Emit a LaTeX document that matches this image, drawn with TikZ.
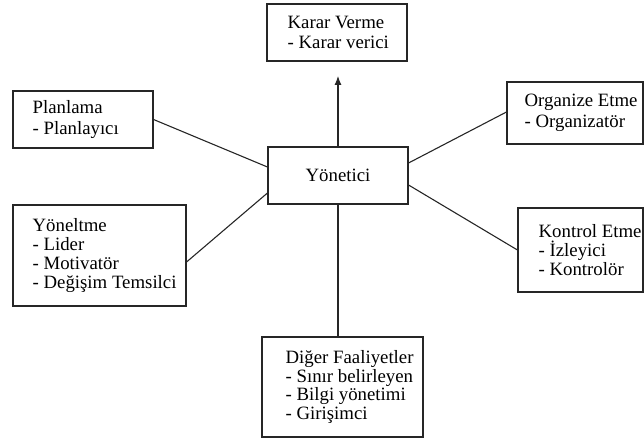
\documentclass[tikz,border=0pt]{standalone}
\usepackage{fontspec}
\newfontfamily\lserif{LiberationSerif}[Extension=.ttf, UprightFont=*-Regular]
\usetikzlibrary{arrows.meta}
\begin{document}
\begin{tikzpicture}[x=1pt,y=-1pt,
  box/.style={draw=black!85, line width=1.1pt, inner sep=0pt},
  txt/.style={anchor=west, inner sep=0pt, align=left, font=\lserif\fontsize{18.8}{20.5}\selectfont},
  txtb/.style={txt, font=\lserif\fontsize{18.8}{18.7}\selectfont},
  conn/.style={draw=black!85, line width=1.1pt}]
\useasboundingbox (0,0) rectangle (644,438);
% boxes
\node[box, minimum width=140pt, minimum height=57pt] (karar) at (337,32.5) {};
\node[box, minimum width=140pt, minimum height=57pt] (plan) at (83,119.5) {};
\node[box, minimum width=136pt, minimum height=62pt] (org) at (575,113) {};
\node[box, minimum width=140pt, minimum height=57pt] (yon) at (338,175.5) {};
\node[box, minimum width=173pt, minimum height=101pt] (yonelt) at (99.5,255.5) {};
\node[box, minimum width=125pt, minimum height=84pt] (kontrol) at (580.5,250) {};
\node[box, minimum width=161pt, minimum height=100pt] (diger) at (342.5,387) {};
% texts
\node[txt] (kararT) at ([xshift=21pt]karar.west) {Karar Verme\\- Karar verici};
\node[txt] (planT) at ([xshift=20pt]plan.west) {Planlama\\- Planlayıcı};
\node[txt] (orgT) at ([xshift=18pt]org.west) {Organize Etme\\- Organizatör};
\node[txt, anchor=center] (yonT) at (yon.center) {Yönetici};
\node[txtb] (yoneltT) at ([xshift=20pt]yonelt.west) {Yöneltme\\- Lider\\- Motivatör\\- Değişim Temsilci};
\node[txtb] (kontrolT) at ([xshift=21pt]kontrol.west) {Kontrol Etme\\- İzleyici\\- Kontrolör};
\node[txtb] (digerT) at ([xshift=24pt]diger.west) {Diğer Faaliyetler\\- Sınır belirleyen\\- Bilgi yönetimi\\- Girişimci};
% connectors
\coordinate (arrowtip) at (338,76);
\draw[conn, -{Latex[length=9pt,width=7pt]}] (yon.north) -- (arrowtip);
\draw[conn] (plan.east) -- ([yshift=8.5pt]yon.west);
\draw[conn] ([yshift=-6.5pt]yonelt.east) -- ([yshift=-17.5pt]yon.west);
\draw[conn] ([yshift=1pt]org.west) -- ([yshift=12.5pt]yon.east);
\draw[conn] (kontrol.west) -- ([yshift=-9.5pt]yon.east);
\draw[conn] (yon.south) -- (yon.south |- diger.north);
\end{tikzpicture}
\end{document}
